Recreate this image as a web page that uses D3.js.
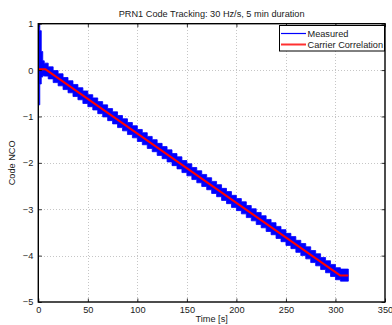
<!DOCTYPE html>
<html>
<head>
<meta charset="utf-8">
<script src="https://cdn.jsdelivr.net/npm/d3@7"></script>
<style>
  html, body { margin: 0; padding: 0; background: #fff; }
  svg { display: block; font-family: "Liberation Sans", Arial, Helvetica, sans-serif; }
</style>
</head>
<body>
<svg id="chart" width="392" height="325"></svg>
<script>
// Axis ticks
const xTicks = [0, 50, 100, 150, 200, 250, 300, 350];
const yTicks = [-5, -4, -3, -2, -1, 0, 1];

// Measured code NCO, min/max per time bin (bin start time [s], low, high)
const measTime = [0, 1.5, 3, 4.5, 6,
  10, 15, 20, 25, 30, 35, 40, 45, 50, 55, 60, 65, 70, 75, 80, 85, 90, 95,
  100, 105, 110, 115, 120, 125, 130, 135, 140, 145, 150, 155, 160, 165, 170, 175,
  180, 185, 190, 195, 200, 205, 210, 215, 220, 225, 230, 235, 240, 245, 250, 255,
  260, 265, 270, 275, 280, 285, 290, 295, 300, 305, 313];
const measHigh = [1.00, 0.85, 0.40, 0.20, 0.15,
  0.07, -0.01, -0.08, -0.16, -0.23, -0.31, -0.38, -0.45, -0.53, -0.60, -0.68, -0.75, -0.83, -0.90, -0.98, -1.05, -1.13, -1.20,
  -1.28, -1.35, -1.43, -1.50, -1.58, -1.65, -1.72, -1.80, -1.87, -1.95, -2.02, -2.10, -2.17, -2.25, -2.32, -2.40,
  -2.47, -2.55, -2.62, -2.70, -2.77, -2.84, -2.92, -2.99, -3.07, -3.14, -3.22, -3.29, -3.37, -3.44, -3.52, -3.59,
  -3.67, -3.74, -3.81, -3.89, -3.96, -4.04, -4.11, -4.19, -4.26, -4.29, -4.29];
const measLow = [-0.75, -0.30, -0.15, -0.12, -0.13,
  -0.19, -0.27, -0.34, -0.42, -0.49, -0.57, -0.64, -0.72, -0.79, -0.86, -0.94, -1.01, -1.09, -1.16, -1.24, -1.31, -1.39, -1.46,
  -1.54, -1.61, -1.69, -1.76, -1.84, -1.91, -1.98, -2.06, -2.13, -2.21, -2.28, -2.36, -2.43, -2.51, -2.58, -2.66,
  -2.73, -2.81, -2.88, -2.96, -3.03, -3.10, -3.18, -3.25, -3.33, -3.40, -3.48, -3.55, -3.63, -3.70, -3.78, -3.85,
  -3.93, -4.00, -4.07, -4.15, -4.22, -4.30, -4.37, -4.45, -4.52, -4.55, -4.55];

// Carrier correlation estimate
const corrTime = [0, 7, 305, 313];
const corrValue = [0.02, 0.02, -4.43, -4.43];

const plot = { left: 38.3, right: 385, top: 23.7, bottom: 302 };

const svg = d3.select("#chart");
const x = d3.scaleLinear().domain([0, 350]).range([plot.left, plot.right]);
const y = d3.scaleLinear().domain([-5, 1]).range([plot.bottom, plot.top]);

const fontSize = 9.2;
const textColor = "#1a1a1a";

// grid
const grid = svg.append("g").attr("stroke", "#b8b8b8").attr("stroke-width", 0.8)
  .attr("stroke-dasharray", "1,2").attr("shape-rendering", "crispEdges");
grid.selectAll("line.gx").data(xTicks.slice(1, -1)).join("line")
  .attr("x1", d => Math.round(x(d)) + 0.5).attr("x2", d => Math.round(x(d)) + 0.5)
  .attr("y1", plot.top).attr("y2", plot.bottom);
grid.selectAll("line.gy").data(yTicks.slice(1, -1)).join("line")
  .attr("y1", d => Math.round(y(d)) + 0.5).attr("y2", d => Math.round(y(d)) + 0.5)
  .attr("x1", plot.left).attr("x2", plot.right);

svg.append("clipPath").attr("id", "plotclip")
  .append("rect").attr("x", plot.left).attr("y", plot.top - 1)
  .attr("width", plot.right - plot.left).attr("height", plot.bottom - plot.top + 1);

const dataG = svg.append("g").attr("clip-path", "url(#plotclip)");

// measured envelope
const meas = measTime.map((t, i) => ({ t, lo: measLow[i], hi: measHigh[i] }));
dataG.append("path").datum(meas)
  .attr("fill", "#0000ff").attr("stroke", "#0000ff").attr("stroke-width", 0.8)
  .attr("d", d3.area().curve(d3.curveStepAfter)
    .x(d => x(d.t)).y0(d => y(d.lo)).y1(d => y(d.hi)));

// carrier correlation
const corr = corrTime.map((t, i) => ({ t, v: corrValue[i] }));
dataG.append("path").datum(corr)
  .attr("fill", "none").attr("stroke", "#ff0000").attr("stroke-width", 2)
  .attr("stroke-linejoin", "round")
  .attr("d", d3.line().x(d => x(d.t)).y(d => y(d.v)));

// axes box
svg.append("rect").attr("x", plot.left).attr("y", plot.top)
  .attr("width", plot.right - plot.left).attr("height", plot.bottom - plot.top)
  .attr("fill", "none").attr("stroke", "#000").attr("stroke-width", 1.4);

// inward ticks on all sides
const tl = 3.5;
const xAxisB = d3.axisBottom(x).tickValues(xTicks).tickSize(-tl).tickFormat(d3.format("d")).tickPadding(5);
const xAxisT = d3.axisTop(x).tickValues(xTicks).tickSize(-tl).tickFormat("");
const yAxisL = d3.axisLeft(y).tickValues(yTicks).tickSize(-tl).tickPadding(5)
  .tickFormat(d => d < 0 ? "\u2212" + Math.abs(d) : String(d));
const yAxisR = d3.axisRight(y).tickValues(yTicks).tickSize(-tl).tickFormat("");

function styleAxis(g) {
  g.select(".domain").remove();
  g.selectAll(".tick line").attr("stroke", "#000").attr("stroke-width", 0.8);
  g.selectAll(".tick text").attr("fill", textColor).attr("font-size", fontSize)
    .attr("font-family", "Liberation Sans, Arial, sans-serif");
}
svg.append("g").attr("transform", `translate(0,${plot.bottom})`).call(xAxisB).call(styleAxis)
  .selectAll(".tick text").attr("dy", "0.7em");
svg.append("g").attr("transform", `translate(0,${plot.top})`).call(xAxisT).call(styleAxis);
svg.append("g").attr("transform", `translate(${plot.left},0)`).call(yAxisL).call(styleAxis);
svg.append("g").attr("transform", `translate(${plot.right},0)`).call(yAxisR).call(styleAxis);

// labels
svg.append("text").attr("x", (plot.left + plot.right) / 2).attr("y", 17)
  .attr("text-anchor", "middle").attr("font-size", fontSize).attr("fill", textColor)
  .text("PRN1 Code Tracking: 30 Hz/s, 5 min duration");
svg.append("text").attr("x", (plot.left + plot.right) / 2).attr("y", 321.5)
  .attr("text-anchor", "middle").attr("font-size", fontSize).attr("fill", textColor)
  .text("Time [s]");
svg.append("text").attr("transform", `translate(15,${(plot.top + plot.bottom) / 2}) rotate(-90)`)
  .attr("text-anchor", "middle").attr("font-size", fontSize).attr("fill", textColor)
  .text("Code NCO");

// legend
const leg = svg.append("g");
leg.append("rect").attr("x", 279.5).attr("y", 25.5).attr("width", 105).attr("height", 25.5)
  .attr("fill", "#fff").attr("stroke", "#000").attr("stroke-width", 1);
const legItems = [
  { label: "Measured", color: "#0000ff", w: 1.2, yy: 33.5 },
  { label: "Carrier Correlation", color: "#ff3030", w: 2, yy: 44.5 }
];
legItems.forEach(it => {
  leg.append("line").attr("x1", 281).attr("x2", 306).attr("y1", it.yy).attr("y2", it.yy)
    .attr("stroke", it.color).attr("stroke-width", it.w);
  leg.append("text").attr("x", 307.5).attr("y", it.yy).attr("dy", "0.35em")
    .attr("font-size", fontSize).attr("fill", textColor).text(it.label);
});
</script>
</body>
</html>
